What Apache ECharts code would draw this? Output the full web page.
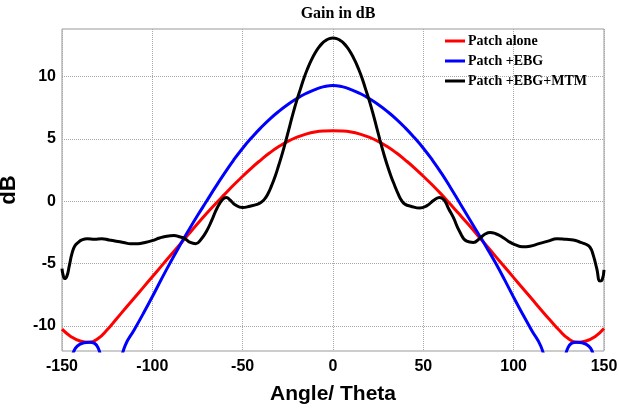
<!DOCTYPE html>
<html>
<head>
<meta charset="utf-8">
<script src="https://cdn.jsdelivr.net/npm/echarts@6/dist/echarts.min.js"></script>
<style>
html,body{margin:0;padding:0;background:#fff;}
#chart{width:619px;height:408px;}
</style>
</head>
<body>
<div id="chart"></div>
<script>
// ---- Data (angle in degrees, gain in dB) ----
const seriesNames = ['Patch alone', 'Patch +EBG', 'Patch +EBG+MTM'];
const xTicks = [-150, -100, -50, 0, 50, 100, 150];
const yTicks = [-10, -5, 0, 5, 10];

// Red and blue curves read every 5 degrees, -150 .. 150
const angles5 = [
  -150,-145,-140,-135,-130,-125,-120,-115,-110,-105,-100,-95,-90,-85,-80,-75,-70,-65,-60,-55,-50,
  -45,-40,-35,-30,-25,-20,-15,-10,-5,0,5,10,15,20,25,30,35,40,45,50,55,60,65,70,75,80,85,90,95,
  100,105,110,115,120,125,130,135,140,145,150
];
const redGain = [
  -10.25,-10.85,-11.2,-11.3,-11.0,-10.3,-9.45,-8.6,-7.75,-6.9,-6.05,-5.2,-4.35,-3.5,-2.65,-1.8,-0.98,
  -0.2,0.55,1.3,2.0,2.68,3.3,3.88,4.38,4.8,5.13,5.38,5.55,5.63,5.65,5.63,5.55,5.38,5.13,4.8,4.38,
  3.88,3.3,2.68,2.0,1.3,0.55,-0.25,-1.05,-1.87,-2.72,-3.57,-4.42,-5.27,-6.12,-6.97,-7.82,-8.67,-9.5,
  -10.3,-10.98,-11.3,-11.2,-10.85,-10.2
];
const blueGain = [
  -15.0,-12.6,-11.45,-11.3,-11.75,-14.5,-13.8,-11.55,-10.3,-9.0,-7.65,-6.25,-4.9,-3.6,-2.35,-1.15,0,
  1.15,2.25,3.3,4.25,5.1,5.88,6.58,7.2,7.75,8.23,8.63,8.95,9.18,9.28,9.18,8.95,8.63,8.23,7.75,7.2,
  6.58,5.88,5.1,4.25,3.3,2.25,1.1,-0.1,-1.3,-2.5,-3.7,-4.95,-6.3,-7.7,-9.05,-10.35,-11.6,-13.8,
  -14.5,-11.75,-11.3,-11.45,-12.6,-15.0
];

// Black curve: [angle, gain] pairs, denser where it changes fast
const blackPoints = [
  [-150,-5.4],[-149.4,-5.9],[-148.5,-6.2],[-147.3,-6.0],[-146,-5.2],[-144.5,-4.2],[-143,-3.6],
  [-141,-3.3],[-139,-3.1],[-136,-3.0],[-132,-3.05],[-128,-3.0],[-124,-3.1],[-120,-3.2],[-116,-3.3],
  [-112,-3.4],[-108,-3.4],[-104,-3.3],[-100,-3.15],[-96,-2.95],[-92,-2.8],[-88,-2.75],[-85,-2.85],
  [-82,-3.0],[-79,-3.3],[-76,-3.4],[-73,-3.05],[-70,-2.4],[-67,-1.5],[-64,-0.5],[-61,0.15],
  [-59,0.3],[-57,0.1],[-54,-0.3],[-50,-0.5],[-46,-0.4],[-42,-0.25],[-40,-0.1],[-38,0.15],
  [-36,0.6],[-34,1.25],[-32,2.0],[-30,2.9],[-28,3.85],[-26,4.9],[-24,6.0],[-22,7.1],[-20,8.1],
  [-18,9.0],[-16,9.9],[-14,10.65],[-12,11.3],[-10,11.85],[-8,12.3],[-6,12.65],[-4,12.88],
  [-2,13.03],[0,13.08],[2,13.03],[4,12.88],[6,12.65],[8,12.3],[10,11.85],[12,11.3],[14,10.65],
  [16,9.9],[18,9.0],[20,8.1],[22,7.1],[24,6.0],[26,4.9],[28,3.85],[30,2.9],[32,2.05],[34,1.3],
  [36,0.6],[38,0.05],[40,-0.25],[43,-0.4],[48,-0.55],[52,-0.35],[56,0.1],[59,0.3],[61.5,0.1],
  [64,-0.6],[66.6,-1.3],[70,-2.4],[74,-3.2],[77.7,-3.3],[81,-3.0],[84,-2.65],[87,-2.5],[90,-2.6],
  [93,-2.8],[97,-3.2],[101,-3.5],[105,-3.65],[109,-3.6],[114,-3.4],[119,-3.2],[124,-3.0],
  [129,-3.05],[133,-3.1],[137,-3.3],[140,-3.45],[142.3,-3.7],[144,-4.3],[146,-5.4],[147.8,-6.4],
  [149,-6.3],[150,-5.5]
];

const seriesColors = ['#ff0000', '#0000ff', '#000000'];
const seriesData = [
  angles5.map((a, i) => [a, redGain[i]]),
  angles5.map((a, i) => [a, blueGain[i]]),
  blackPoints
];

const chart = echarts.init(document.getElementById('chart'), null, {renderer: 'canvas'});
const labelFont = {
  fontFamily: '"Liberation Sans", Arial, sans-serif',
  fontWeight: 'bold',
  fontSize: 16,
  color: '#000'
};

chart.setOption({
  animation: false,
  backgroundColor: '#fff',
  title: {
    text: 'Gain in dB',
    left: 333,
    top: 1,
    textAlign: 'center',
    textStyle: {
      fontFamily: '"Liberation Serif", "Times New Roman", serif',
      fontWeight: 'bold',
      fontSize: 16,
      color: '#000'
    }
  },
  legend: {
    orient: 'vertical',
    left: 440,
    top: 29,
    itemWidth: 20,
    itemHeight: 3,
    itemGap: 6,
    icon: 'rect',
    data: seriesNames,
    textStyle: {
      fontFamily: '"Liberation Serif", "Times New Roman", serif',
      fontWeight: 'bold',
      fontSize: 14,
      lineHeight: 14,
      color: '#000',
      padding: [0, 0, 0, -2]
    }
  },
  grid: {
    left: 62,
    right: 15,
    top: 29,
    bottom: 57,
    containLabel: false,
    outerBoundsMode: 'none',
    show: true,
    borderColor: '#999',
    borderWidth: 1,
    backgroundColor: 'transparent'
  },
  xAxis: {
    type: 'value',
    min: xTicks[0],
    max: xTicks[xTicks.length - 1],
    interval: 50,
    name: 'Angle/ Theta',
    nameLocation: 'middle',
    nameGap: 33,
    nameTextStyle: {
      fontFamily: '"Liberation Sans", Arial, sans-serif',
      fontWeight: 'bold',
      fontSize: 21,
      color: '#000'
    },
    axisLine: {show: false},
    axisTick: {show: false},
    axisLabel: Object.assign({margin: 8}, labelFont),
    splitLine: {show: true, lineStyle: {color: '#aaa', type: 'dotted', width: 1}}
  },
  yAxis: {
    type: 'value',
    min: -12,
    max: 13.8,
    name: 'dB',
    nameLocation: 'middle',
    nameGap: 42,
    nameTextStyle: {
      fontFamily: '"Liberation Sans", Arial, sans-serif',
      fontWeight: 'bold',
      fontSize: 22,
      color: '#000'
    },
    axisLine: {show: false},
    axisTick: {show: false, customValues: yTicks},
    axisLabel: Object.assign({margin: 6, customValues: yTicks}, labelFont),
    splitLine: {show: true, lineStyle: {color: '#aaa', type: 'dotted', width: 1}}
  },
  series: seriesNames.map((name, i) => ({
    name: name,
    type: 'line',
    data: seriesData[i],
    showSymbol: false,
    symbol: 'none',
    smooth: 0.5,
    clip: true,
    color: seriesColors[i],
    lineStyle: {color: seriesColors[i], width: 3}
  }))
});
</script>
</body>
</html>
